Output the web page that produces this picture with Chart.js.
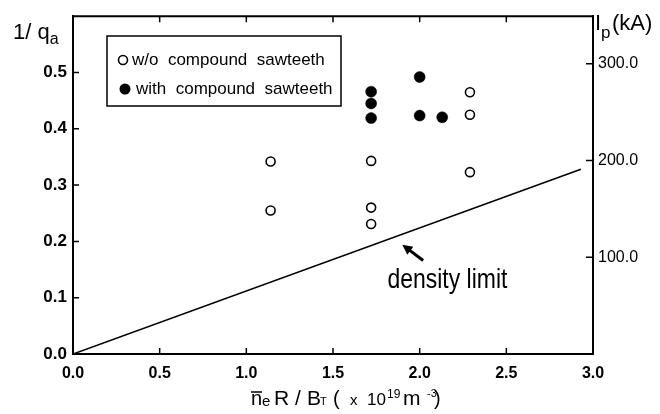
<!DOCTYPE html>
<html>
<head>
<meta charset="utf-8">
<script src="https://cdn.jsdelivr.net/npm/chart.js@4/dist/chart.umd.min.js"></script>
<style>
  html, body { margin: 0; padding: 0; background: #fff; }
  canvas { display: block; }
</style>
</head>
<body>
<canvas id="qaChart" width="660" height="414"></canvas>
<script>
// open circles: w/o compound sawteeth
const xOpen = [1.14, 1.14, 1.72, 1.72, 1.72, 2.29, 2.29, 2.29];
const yOpen = [0.342, 0.255, 0.343, 0.260, 0.231, 0.465, 0.425, 0.323];
// filled circles: with compound sawteeth
const xFilled = [1.72, 1.72, 1.72, 2.0, 2.0, 2.13];
const yFilled = [0.466, 0.445, 0.419, 0.492, 0.4235, 0.4205];
// density limit line
const limitX = [0, 2.93];
const limitY = [0, 0.328];

const xTicks = [0, 0.5, 1.0, 1.5, 2.0, 2.5, 3.0];
const yTicks = [0, 0.1, 0.2, 0.3, 0.4, 0.5];
const ipTicks = [100, 200, 300];
const legendLabels = ['w/o  compound  sawteeth', 'with  compound  sawteeth'];

const toPoints = (xs, ys) => xs.map((x, i) => ({ x: x, y: ys[i] }));
const FONT = '"Liberation Sans", Arial, sans-serif';

const decor = {
  id: 'decor',
  afterDraw(chart) {
    const ctx = chart.ctx;
    const a = chart.chartArea;
    const sx = chart.scales.x, sy = chart.scales.y, sy2 = chart.scales.y2;
    ctx.save();
    ctx.strokeStyle = '#000';
    ctx.fillStyle = '#000';
    ctx.lineWidth = 2;

    // top frame line
    ctx.beginPath();
    ctx.moveTo(a.left - 1, a.top);
    ctx.lineTo(a.right + 1, a.top);
    ctx.stroke();

    // inward ticks
    ctx.lineWidth = 1.5;
    ctx.beginPath();
    xTicks.slice(1, -1).forEach(v => {
      const px = sx.getPixelForValue(v);
      ctx.moveTo(px, a.bottom); ctx.lineTo(px, a.bottom - 6);
      ctx.moveTo(px, a.top); ctx.lineTo(px, a.top + 6);
    });
    yTicks.slice(1).forEach(v => {
      const py = sy.getPixelForValue(v);
      ctx.moveTo(a.left, py); ctx.lineTo(a.left + 6, py);
    });
    ipTicks.forEach(v => {
      const py = sy2.getPixelForValue(v);
      ctx.moveTo(a.right, py); ctx.lineTo(a.right - 7, py);
    });
    ctx.stroke();

    // legend box
    ctx.lineWidth = 1.5;
    ctx.strokeRect(107, 36, 234, 70);
    ctx.font = '17px ' + FONT;
    ctx.textBaseline = 'middle';
    ctx.textAlign = 'left';
    ctx.beginPath();
    ctx.arc(123, 60, 4.5, 0, Math.PI * 2);
    ctx.lineWidth = 1.6;
    ctx.stroke();
    ctx.fillText(legendLabels[0], 132, 60);
    ctx.beginPath();
    ctx.arc(125, 89, 5.5, 0, Math.PI * 2);
    ctx.fill();
    ctx.fillText(legendLabels[1], 136, 89);

    // left axis title 1/ q_a
    ctx.textBaseline = 'alphabetic';
    ctx.font = '22px ' + FONT;
    ctx.fillText('1/ q', 13, 39);
    const w = ctx.measureText('1/ q').width;
    ctx.font = '16px ' + FONT;
    ctx.fillText('a', 13 + w, 44);

    // right axis title I_p(kA)
    ctx.font = '22px ' + FONT;
    ctx.fillText('I', 595, 30);
    ctx.font = '17px ' + FONT;
    ctx.fillText('p', 601, 38);
    ctx.font = '22px ' + FONT;
    ctx.fillText('(kA)', 612, 30);

    // x axis title: n̄e R / BT (x 10^19 m^-3)
    const base = 405;
    const pieces = [
      ['n', 20, 0, 251], ['e', 15, 1, 262], ['R', 21, 0, 274], ['/', 21, 0, 295],
      ['B', 21, 0, 307], ['T', 11, 0, 320], ['(', 20, 0, 333], ['x', 15, 0, 350],
      ['10', 17, 0, 367], ['19', 12, -7, 387], ['m', 21, 0, 403], ['-3', 11, -8, 427],
      [')', 20, 0, 434]
    ];
    pieces.forEach(p => {
      ctx.font = p[1] + 'px ' + FONT;
      ctx.fillText(p[0], p[3], base + p[2]);
    });
    ctx.lineWidth = 1.5;
    ctx.beginPath();
    ctx.moveTo(251, base - 13); ctx.lineTo(262, base - 13);
    ctx.stroke();

    // density limit annotation
    const hx = sx.getPixelForValue(1.90), hy = sy.getPixelForValue(0.194);
    const tx = sx.getPixelForValue(2.02), ty = sy.getPixelForValue(0.166);
    const ang = Math.atan2(hy - ty, hx - tx);
    ctx.lineWidth = 3;
    ctx.beginPath();
    ctx.moveTo(tx, ty);
    ctx.lineTo(hx - 6 * Math.cos(ang), hy - 6 * Math.sin(ang));
    ctx.stroke();
    ctx.beginPath();
    ctx.moveTo(hx, hy);
    ctx.lineTo(hx - 10 * Math.cos(ang) + 5 * Math.sin(ang), hy - 10 * Math.sin(ang) - 5 * Math.cos(ang));
    ctx.lineTo(hx - 10 * Math.cos(ang) - 5 * Math.sin(ang), hy - 10 * Math.sin(ang) + 5 * Math.cos(ang));
    ctx.closePath();
    ctx.fill();
    // condensed label
    ctx.font = '28px ' + FONT;
    ctx.textAlign = 'center';
    ctx.translate(sx.getPixelForValue(2.16), sy.getPixelForValue(0.117));
    ctx.scale(0.82, 1);
    ctx.fillText('density limit', 0, 0);

    ctx.restore();
  }
};

document.addEventListener('DOMContentLoaded', () => {
  const ctx = document.getElementById('qaChart').getContext('2d');
  new Chart(ctx, {
    type: 'scatter',
    data: {
      datasets: [
        {
          label: 'density limit',
          type: 'line',
          data: toPoints(limitX, limitY),
          borderColor: '#000',
          borderWidth: 1.6,
          pointRadius: 0,
          fill: false,
          yAxisID: 'y'
        },
        {
          label: 'w/o compound sawteeth',
          data: toPoints(xOpen, yOpen),
          pointRadius: 4.5,
          pointBorderWidth: 1.6,
          borderColor: '#000',
          backgroundColor: '#fff',
          yAxisID: 'y'
        },
        {
          label: 'with compound sawteeth',
          data: toPoints(xFilled, yFilled),
          pointRadius: 5.5,
          pointBorderWidth: 0.5,
          borderColor: '#000',
          backgroundColor: '#000',
          yAxisID: 'y'
        }
      ]
    },
    options: {
      responsive: false,
      animation: false,
      layout: { padding: { top: 14, left: 0, right: 0, bottom: 0 } },
      plugins: {
        legend: { display: false },
        tooltip: { enabled: false }
      },
      scales: {
        x: {
          type: 'linear',
          min: 0, max: 3,
          afterFit: s => { s.height = 60; },
          afterBuildTicks: s => { s.ticks = xTicks.map(v => ({ value: v })); },
          grid: { display: false, drawTicks: false },
          border: { display: true, color: '#000', width: 2 },
          ticks: {
            padding: 10,
            color: '#000',
            font: { family: FONT, size: 16, weight: 'bold' },
            callback: v => v.toFixed(1)
          }
        },
        y: {
          type: 'linear',
          position: 'left',
          min: 0, max: 0.6,
          afterFit: s => { s.width = 73; },
          afterBuildTicks: s => { s.ticks = yTicks.map(v => ({ value: v })); },
          grid: { display: false, drawTicks: false },
          border: { display: true, color: '#000', width: 2 },
          ticks: {
            padding: 6,
            color: '#000',
            font: { family: FONT, size: 17, weight: 'bold' },
            callback: v => v.toFixed(1)
          }
        },
        y2: {
          type: 'linear',
          position: 'right',
          min: 0, max: 349,
          afterFit: s => { s.width = 67; },
          afterBuildTicks: s => { s.ticks = ipTicks.map(v => ({ value: v })); },
          grid: { display: false, drawTicks: false },
          border: { display: true, color: '#000', width: 2 },
          ticks: {
            padding: 5,
            color: '#000',
            font: { family: FONT, size: 16 },
            callback: v => v.toFixed(1)
          }
        }
      }
    },
    plugins: [decor]
  });
});
</script>
</body>
</html>
